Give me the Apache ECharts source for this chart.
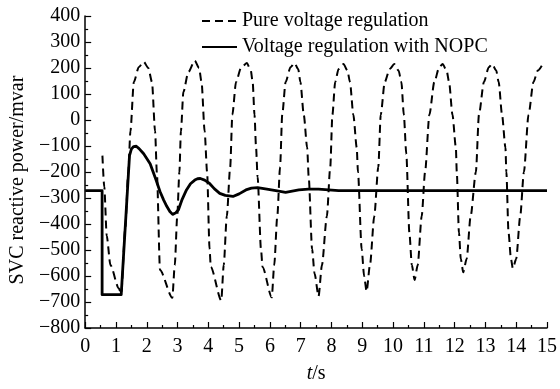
<!DOCTYPE html>
<html>
<head>
<meta charset="utf-8">
<script src="https://cdn.jsdelivr.net/npm/echarts@6/dist/echarts.min.js"></script>
<style>
html,body{margin:0;padding:0;background:#fff;}
#chart{width:560px;height:389px;}
</style>
</head>
<body>
<div id="chart"></div>
<script>
// Series names
const seriesNames = ['Pure voltage regulation', 'Voltage regulation with NOPC'];

// Pure voltage regulation (dashed) — time (s) and reactive power (mvar)
const pureT = [0.56,0.62,0.70,0.82,1.09,1.17,1.30,1.40,1.47,1.58,1.74,1.90,2.05,2.17,2.27,2.33,2.43,2.83,
  2.91,2.99,3.06,3.11,3.19,3.35,3.56,3.70,3.78,3.88,3.96,4.04,4.08,4.42,
  4.50,4.60,4.71,4.78,4.90,5.06,5.25,5.38,5.44,5.50,5.55,5.60,5.71,5.76,6.06,
  6.14,6.24,6.33,6.40,6.51,6.67,6.80,6.92,6.99,7.10,7.21,7.26,7.37,7.45,7.58,
  7.69,7.85,7.96,8.03,8.12,8.23,8.39,8.52,8.60,8.71,8.82,8.86,8.98,9.06,9.14,
  9.25,9.39,9.52,9.60,9.73,9.89,10.04,10.18,10.27,10.35,10.43,10.53,10.61,10.70,
  10.80,10.93,11.04,11.18,11.34,11.50,11.61,11.74,11.82,11.93,12.04,12.07,12.14,12.20,12.28,
  12.39,12.52,12.69,12.79,12.95,13.11,13.22,13.35,13.43,13.54,13.65,13.68,13.75,13.83,13.89,
  14.00,14.13,14.25,14.40,14.56,14.70,14.83];
const pureV = [-137,-257,-445,-558,-647,-668,-420,-200,-43,146,203,224,200,146,-43,-206,-577,-684,
  -558,-370,-200,-43,108,184,228,200,146,-43,-200,-496,-565,-694,
  -558,-370,-181,20,146,200,219,190,146,20,-106,-219,-496,-565,-682,
  -558,-370,-181,20,146,203,219,195,146,20,-106,-219,-496,-590,-678,
  -558,-370,-181,20,146,196,215,190,146,20,-106,-200,-496,-600,-659,
  -558,-370,-181,20,146,196,215,190,146,20,-130,-433,-558,-615,
  -558,-370,-200,20,146,203,215,190,146,20,-106,-200,-433,-534,-586,
  -534,-370,-200,20,146,203,215,190,146,20,-106,-200,-433,-534,-571,
  -534,-370,-200,20,146,190,209];

// Voltage regulation with NOPC (solid)
const nopcT = [0,0.55,0.55,1.17,1.44,1.50,1.57,1.66,1.75,1.90,2.11,2.30,2.43,2.55,2.65,2.75,2.84,2.93,3.03,3.15,
  3.29,3.42,3.56,3.65,3.74,3.88,4.04,4.20,4.37,4.55,4.80,5.00,5.22,5.40,5.60,5.90,6.19,6.51,6.94,7.25,7.58,8.23,15];
const nopcV = [-272,-272,-672,-672,-137,-112,-102,-101,-110,-130,-168,-230,-275,-308,-332,-352,-363,-358,-345,-305,
  -269,-245,-231,-226,-225,-231,-244,-265,-282,-290,-294,-284,-269,-262,-260,-266,-272,-278,-269,-266,-266,-272,-272];

// Axis settings
const xMin = 0, xMax = 15, xStep = 1;
const yMin = -800, yMax = 400, yStep = 100;

const zip = (a, b) => a.map((v, i) => [v, b[i]]);
const FONT = '"Liberation Serif", "Times New Roman", serif';

const chart = echarts.init(document.getElementById('chart'), null, {renderer: 'canvas'});
chart.setOption({
  animation: false,
  backgroundColor: '#fff',
  color: ['#000', '#000'],
  textStyle: {fontFamily: FONT, color: '#000'},
  grid: {left: 81, right: 13, top: 16, bottom: 55, containLabel: false},
  legend: {
    orient: 'vertical', left: 196, top: 6, itemGap: 6, itemWidth: 35, itemHeight: 14,
    itemStyle: {opacity: 0},
    textStyle: {fontFamily: FONT, fontSize: 20, color: '#000', lineHeight: 20},
    data: seriesNames
  },
  xAxis: {
    type: 'value', min: xMin, max: xMax, interval: xStep,
    name: '{i|t}{n|/s}', nameLocation: 'middle', nameGap: 36,
    nameTextStyle: {rich: {i: {fontFamily: FONT, fontSize: 20, fontStyle: 'italic', color: '#000'}, n: {fontFamily: FONT, fontSize: 20, color: '#000'}}},
    axisLine: {show: true, onZero: false, lineStyle: {color: '#000', width: 1.5}},
    axisTick: {show: true, inside: true, length: 6, lineStyle: {color: '#000', width: 1.2}},
    minorTick: {show: true, splitNumber: 2, length: 3, lineStyle: {color: '#000', width: 1.2}},
    axisLabel: {color: '#000', fontFamily: FONT, fontSize: 20, margin: 9},
    splitLine: {show: false}
  },
  yAxis: {
    type: 'value', min: yMin, max: yMax, interval: yStep,
    name: 'SVC reactive power/mvar', nameLocation: 'middle', nameGap: 52,
    nameTextStyle: {fontFamily: FONT, fontSize: 20, color: '#000', padding: [0, 16, 0, 0]},
    axisLine: {show: true, onZero: false, lineStyle: {color: '#000', width: 1.5}},
    axisTick: {show: true, inside: true, length: 6, lineStyle: {color: '#000', width: 1.2}},
    minorTick: {show: true, splitNumber: 2, length: 3, lineStyle: {color: '#000', width: 1.2}},
    axisLabel: {color: '#000', fontFamily: FONT, fontSize: 20, margin: 5,
      formatter: v => (v < 0 ? '\u2212' + Math.abs(v) : String(v))},
    splitLine: {show: false}
  },
  series: [
    {
      name: seriesNames[0], type: 'line', data: zip(pureT, pureV),
      symbol: 'none', smooth: 0.25, smoothMonotone: 'x',
      itemStyle: {color: '#000'},
      lineStyle: {color: '#000', width: 2, type: [8, 5]}, z: 2
    },
    {
      name: seriesNames[1], type: 'line', data: zip(nopcT, nopcV),
      symbol: 'none', smooth: false,
      itemStyle: {color: '#000'},
      lineStyle: {color: '#000', width: 2.8, join: 'round'}, z: 3
    }
  ]
});
</script>
</body>
</html>
